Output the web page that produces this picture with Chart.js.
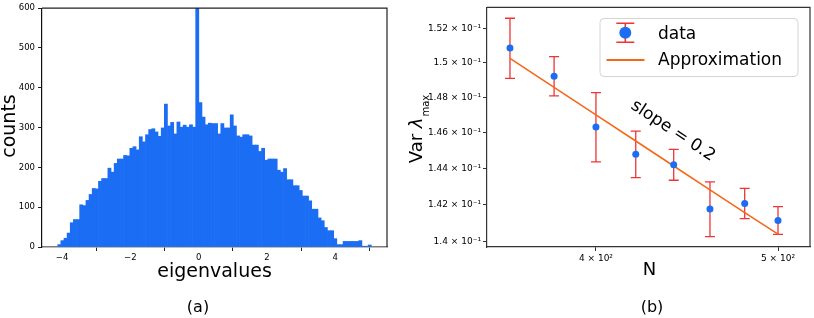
<!DOCTYPE html>
<html>
<head>
<meta charset="utf-8">
<script src="https://cdn.jsdelivr.net/npm/chart.js@4.4.1/dist/chart.umd.min.js"></script>
<style>
  html, body { margin: 0; padding: 0; background: #fff; }
  #wrap { position: relative; width: 814px; height: 318px; overflow: hidden; }
  canvas { position: absolute; top: 0; }
  #histChart { left: 0; }
  #varChart { left: 400px; }
</style>
</head>
<body>
<div id="wrap">
  <canvas id="histChart" width="400" height="318"></canvas>
  <canvas id="varChart" width="414" height="318"></canvas>
</div>
<script>
// (a) histogram of eigenvalues
const BIN_LEFT_EDGE = -4.13;
const BIN_WIDTH = 0.0919;
const HIST_COUNTS = [
  6, 16, 22, 35, 61, 69, 69, 106, 104, 117,
  132, 147, 146, 165, 172, 172, 198, 188, 210, 221,
  221, 230, 229, 248, 252, 244, 277, 264, 282, 295,
  297, 289, 278, 299, 359, 304, 313, 284, 314, 301,
  306, 301, 307, 301, 640, 363, 326, 307, 311, 310,
  310, 284, 310, 299, 299, 332, 304, 279, 276, 282,
  282, 279, 256, 256, 240, 248, 218, 221, 221, 221,
  193, 188, 197, 169, 169, 154, 154, 142, 128, 128,
  116, 95, 95, 73, 66, 49, 41, 41, 21, 6,
  6, 14, 14, 14, 14, 14, 16, 2, 2, 5
];
const HIST_X_TICKS = [-4, -2, 0, 2, 4];

// (b) variance of the largest eigenvalue
const N_VALUES = [360, 380, 400, 420, 440, 460, 480, 500];
const VAR_VALUES = [0.15085, 0.14922, 0.14632, 0.14479, 0.14420, 0.14175, 0.14206, 0.14113];
const VAR_ERRORS = [0.00175, 0.00113, 0.00196, 0.00130, 0.00086, 0.00150, 0.00083, 0.00076];
const APPROX_VALUES = [0.15025, 0.14858, 0.14701, 0.14553, 0.14413, 0.14281, 0.14156, 0.14039];
const VAR_TICKS = [0.140, 0.142, 0.144, 0.146, 0.148, 0.150, 0.152];
const N_TICKS = [400, 500];

const FONT = "'DejaVu Sans', sans-serif";
const BLUE = "#1b6ef3";
const ORANGE = "#f5681a";
const RED = "#ee3535";

const binCenters = HIST_COUNTS.map((_, i) => BIN_LEFT_EDGE + (i + 0.5) * BIN_WIDTH);

function spines(color) {
  return {
    id: "spines",
    afterDatasetsDraw(chart) {
      const { ctx, chartArea: a } = chart;
      ctx.save();
      ctx.strokeStyle = color;
      ctx.lineWidth = 1.2;
      ctx.beginPath();
      ctx.moveTo(a.left, a.top);
      ctx.lineTo(a.right, a.top);
      ctx.lineTo(a.right, a.bottom);
      ctx.stroke();
      ctx.restore();
    }
  };
}

const histLabels = {
  id: "histLabels",
  afterDraw(chart) {
    const ctx = chart.ctx;
    ctx.save();
    ctx.fillStyle = "#000";
    ctx.textAlign = "center";
    ctx.textBaseline = "alphabetic";
    ctx.font = "19px " + FONT;
    ctx.fillText("eigenvalues", 214.5, 277);
    ctx.save();
    ctx.translate(15, 126);
    ctx.rotate(-Math.PI / 2);
    ctx.fillText("counts", 0, 0);
    ctx.restore();
    ctx.font = "16px " + FONT;
    ctx.fillText("(a)", 198, 312);
    ctx.restore();
  }
};

new Chart(document.getElementById("histChart"), {
  type: "bar",
  data: {
    datasets: [{
      data: HIST_COUNTS.map((c, i) => ({ x: binCenters[i], y: c })),
      backgroundColor: BLUE,
      borderWidth: 0,
      barPercentage: 1,
      categoryPercentage: 1
    }]
  },
  options: {
    responsive: false,
    animation: false,
    layout: { padding: { top: 5, right: 13, left: 0, bottom: 0 } },
    plugins: { legend: { display: false }, tooltip: { enabled: false } },
    scales: {
      x: {
        type: "linear",
        min: -4.59,
        max: 5.52,
        offset: false,
        afterBuildTicks: s => { s.ticks = HIST_X_TICKS.map(v => ({ value: v })); },
        afterFit: s => { s.height = 71; },
        ticks: {
          autoSkip: false, maxRotation: 0, padding: 2, color: "#000",
          font: { family: FONT, size: 8.5 },
          callback: v => String(v).replace("-", "\u2212")
        },
        grid: { display: true, drawOnChartArea: false, drawTicks: true, tickLength: 4, color: "#222" },
        border: { display: true, color: "#7d7d7d", width: 1.5 }
      },
      y: {
        min: 0,
        max: 600,
        afterFit: s => { s.width = 42; },
        ticks: { stepSize: 100, padding: 3, color: "#000", font: { family: FONT, size: 8.5 } },
        grid: { display: true, drawOnChartArea: false, drawTicks: true, tickLength: 4, color: "#222" },
        border: { display: true, color: "#111", width: 1.2 }
      }
    }
  },
  plugins: [spines("#222"), histLabels]
});

const errorBars = {
  id: "errorBars",
  beforeDatasetsDraw(chart) {
    const { ctx, scales: { x, y } } = chart;
    ctx.save();
    ctx.strokeStyle = RED;
    ctx.lineWidth = 1.3;
    N_VALUES.forEach((n, i) => {
      const px = x.getPixelForValue(n);
      const top = y.getPixelForValue(VAR_VALUES[i] + VAR_ERRORS[i]);
      const bot = y.getPixelForValue(VAR_VALUES[i] - VAR_ERRORS[i]);
      ctx.beginPath();
      ctx.moveTo(px, top); ctx.lineTo(px, bot);
      ctx.moveTo(px - 5, top); ctx.lineTo(px + 5, top);
      ctx.moveTo(px - 5, bot); ctx.lineTo(px + 5, bot);
      ctx.stroke();
    });
    ctx.restore();
  }
};

const varLabels = {
  id: "varLabels",
  afterDraw(chart) {
    const ctx = chart.ctx;
    ctx.save();
    ctx.fillStyle = "#000";
    ctx.textBaseline = "alphabetic";

    // x label
    ctx.textAlign = "center";
    ctx.font = "18px " + FONT;
    ctx.fillText("N", 249.6, 275);

    // caption
    ctx.font = "16px " + FONT;
    ctx.fillText("(b)", 252, 312);

    // y label: Var λ_max
    ctx.save();
    ctx.translate(22, 129);
    ctx.rotate(-Math.PI / 2);
    ctx.textAlign = "left";
    ctx.font = "18px " + FONT;
    const w1 = ctx.measureText("Var ").width;
    ctx.font = "italic 18px " + FONT;
    const w2 = ctx.measureText("\u03bb").width;
    ctx.font = "10px " + FONT;
    const w3 = ctx.measureText("max").width;
    let x0 = -(w1 + w2 + w3 + 1) / 2;
    ctx.font = "18px " + FONT;
    ctx.fillText("Var ", x0, 0);
    ctx.font = "italic 18px " + FONT;
    ctx.fillText("\u03bb", x0 + w1, 0);
    ctx.font = "10px " + FONT;
    ctx.fillText("max", x0 + w1 + w2 + 1, 6.5);
    ctx.restore();

    // slope annotation
    ctx.save();
    ctx.translate(273, 131);
    ctx.rotate(33.5 * Math.PI / 180);
    ctx.textAlign = "center";
    ctx.textBaseline = "middle";
    ctx.font = "17px " + FONT;
    ctx.fillText("slope = 0.2", 0, 0);
    ctx.restore();

    // legend
    const lx = 200, ly = 18.5, lw = 198, lh = 58, r = 4;
    ctx.beginPath();
    ctx.moveTo(lx + r, ly);
    ctx.lineTo(lx + lw - r, ly);
    ctx.quadraticCurveTo(lx + lw, ly, lx + lw, ly + r);
    ctx.lineTo(lx + lw, ly + lh - r);
    ctx.quadraticCurveTo(lx + lw, ly + lh, lx + lw - r, ly + lh);
    ctx.lineTo(lx + r, ly + lh);
    ctx.quadraticCurveTo(lx, ly + lh, lx, ly + lh - r);
    ctx.lineTo(lx, ly + r);
    ctx.quadraticCurveTo(lx, ly, lx + r, ly);
    ctx.closePath();
    ctx.fillStyle = "rgba(255,255,255,0.85)";
    ctx.fill();
    ctx.strokeStyle = "#d4d4d4";
    ctx.lineWidth = 1;
    ctx.stroke();

    // data entry: error bar + marker
    const mx = 225.3, my = 32.8;
    ctx.strokeStyle = RED;
    ctx.lineWidth = 1.6;
    ctx.beginPath();
    ctx.moveTo(mx, my - 9.5); ctx.lineTo(mx, my + 9.5);
    ctx.moveTo(mx - 9, my - 9.5); ctx.lineTo(mx + 9, my - 9.5);
    ctx.moveTo(mx - 9, my + 9.5); ctx.lineTo(mx + 9, my + 9.5);
    ctx.stroke();
    ctx.fillStyle = BLUE;
    ctx.beginPath();
    ctx.arc(mx, my, 6, 0, Math.PI * 2);
    ctx.fill();

    // approximation entry
    ctx.strokeStyle = ORANGE;
    ctx.lineWidth = 2;
    ctx.beginPath();
    ctx.moveTo(206.5, 60); ctx.lineTo(244.5, 60);
    ctx.stroke();

    ctx.fillStyle = "#000";
    ctx.textAlign = "left";
    ctx.font = "17px " + FONT;
    ctx.fillText("data", 258, 39);
    ctx.fillText("Approximation", 258, 65);
    ctx.restore();
  }
};

new Chart(document.getElementById("varChart"), {
  type: "scatter",
  data: {
    datasets: [
      {
        label: "data",
        data: N_VALUES.map((n, i) => ({ x: n, y: VAR_VALUES[i] })),
        pointRadius: 3.5,
        pointBackgroundColor: BLUE,
        pointBorderWidth: 0,
        showLine: false,
        order: 0
      },
      {
        label: "Approximation",
        data: N_VALUES.map((n, i) => ({ x: n, y: APPROX_VALUES[i] })),
        showLine: true,
        borderColor: ORANGE,
        borderWidth: 1.6,
        pointRadius: 0,
        order: 1
      }
    ]
  },
  options: {
    responsive: false,
    animation: false,
    layout: { padding: { top: 5, right: 2, left: 0, bottom: 0 } },
    plugins: { legend: { display: false }, tooltip: { enabled: false } },
    scales: {
      x: {
        type: "logarithmic",
        min: 350,
        max: 520,
        afterBuildTicks: s => { s.ticks = N_TICKS.map(v => ({ value: v })); },
        afterFit: s => { s.height = 71; },
        ticks: {
          autoSkip: false, maxRotation: 0, padding: 2, color: "#000",
          font: { family: FONT, size: 9 },
          callback: v => (v / 100) + " \u00d7 10\u00b2"
        },
        grid: { display: true, drawOnChartArea: false, drawTicks: true, tickLength: 4, color: "#333" },
        border: { display: true, color: "#333", width: 1.2 }
      },
      y: {
        type: "logarithmic",
        min: 0.13969,
        max: 0.15324,
        afterBuildTicks: s => { s.ticks = VAR_TICKS.map(v => ({ value: v })); },
        afterFit: s => { s.width = 87; },
        ticks: {
          autoSkip: false, padding: 2, color: "#000",
          font: { family: FONT, size: 9 },
          callback: v => (+(v * 10).toFixed(2)) + " \u00d7 10\u207b\u00b9"
        },
        grid: { display: true, drawOnChartArea: false, drawTicks: true, tickLength: 4, color: "#333" },
        border: { display: true, color: "#333", width: 1.2 }
      }
    }
  },
  plugins: [errorBars, spines("#333"), varLabels]
});
</script>
</body>
</html>
